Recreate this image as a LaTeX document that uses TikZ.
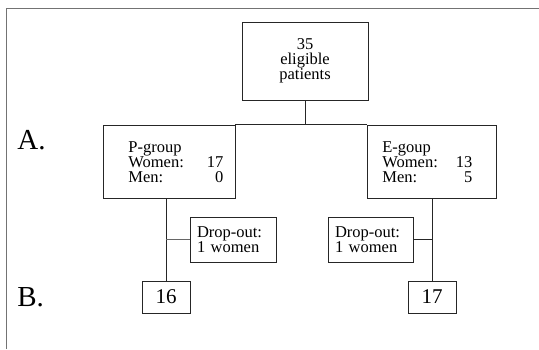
\documentclass[tikz,border=0pt]{standalone}
\usepackage{fontspec}
\setmainfont{Liberation Serif}
\begin{document}
\begin{tikzpicture}[x=1pt,y=-1pt,line width=0.7pt,
  box/.style={draw=black!85, inner sep=0pt},
  txt/.style={font=\fontsize{16.5}{15}\selectfont},
  num/.style={font=\fontsize{21}{22}\selectfont},
  part/.style={font=\fontsize{29}{30}\selectfont, inner sep=0pt}]
\useasboundingbox (0,0) rectangle (539,349);
\draw[black!55] (6,349) -- (6,8) -- (539,8);

% study groups
\node[box, txt, align=center, minimum width=126pt, minimum height=78pt] (elig) at (305,61) {35\\eligible\\patients};
\node[box, minimum width=132pt, minimum height=73pt] (pgrp) at (169,161.5) {};
\node[box, minimum width=129pt, minimum height=73pt] (egrp) at (431.5,161.5) {};
\node[txt, text width=95pt, align=left, inner sep=0pt, anchor=north west] (ptxt) at (128,141) {P-group\\Women:\hfill 17\\Men:\hfill 0};
\node[txt, text width=90pt, align=left, inner sep=0pt, anchor=north west] (etxt) at (382,141) {E-goup\\Women:\hfill 13\\Men:\hfill 5};

% drop-outs and final numbers
\node[box, txt, text width=72pt, inner xsep=7pt, minimum height=45pt, align=left] (pdrop) at (233,239.5) {Drop-out:\\1 women};
\node[box, txt, text width=71pt, inner xsep=7pt, minimum height=45pt, align=left] (edrop) at (370.5,239.5) {Drop-out:\\1 women};
\node[box, num, minimum width=48pt, minimum height=32pt] (pend) at (166,297) {16};
\node[box, num, minimum width=48pt, minimum height=32pt] (eend) at (432,297) {17};

\node[part, anchor=base west] (partA) at (17,149) {A.};
\node[part, anchor=base west] (partB) at (17,306) {B.};

\draw[black!85] (elig.south) -- (elig.south |- pgrp.north);
\draw[black!85] (pgrp.north east) -- (egrp.north west);
\draw[black!85] (pend.north |- pgrp.south) -- (pend.north);
\draw[black!85] (eend.north |- egrp.south) -- (eend.north);
\draw[black!60] (pdrop.west) -- (pdrop.west -| pend.north);
\draw[black!85] (edrop.east) -- (edrop.east -| eend.north);

\end{tikzpicture}
\end{document}
